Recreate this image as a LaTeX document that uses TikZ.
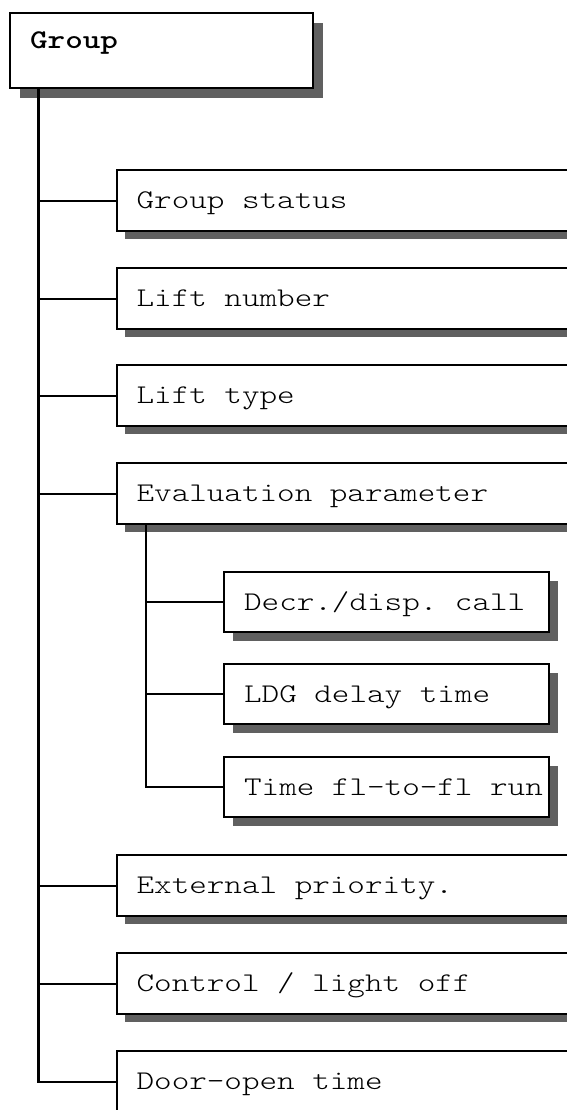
\documentclass[tikz,border=0pt]{standalone}
\usepackage{fontspec}
\setmonofont{lmmonolt10-regular}[Extension=.otf, BoldFont=lmmonolt10-bold, FakeStretch=1.24]
\usetikzlibrary{shadows}
\definecolor{shadowgray}{HTML}{606060}
% monospaced word gaps: one full character cell, no stretch
\newcommand{\monogaps}{\spaceskip=\fontcharwd\font`a\relax\xspaceskip=\spaceskip}
\tikzset{
  box/.style={draw=black, fill=white, line width=2.2pt, rectangle, anchor=north west,
    inner xsep=20pt, inner ysep=0pt, align=left,
    font=\fontsize{27}{30}\selectfont\ttfamily,
    execute at begin node=\monogaps,
    text height=16pt, text depth=0pt},
  rootbox/.style={box, text width=263pt, text height=35pt, text depth=40pt,
    font=\fontsize{27}{30}\selectfont\ttfamily\bfseries,
    drop shadow={shadow xshift=10pt, shadow yshift=-10pt, opacity=1, fill=shadowgray}},
  itembox/.style={box, text width=460pt, minimum height=61pt,
    drop shadow={shadow xshift=8pt, shadow yshift=-8pt, opacity=1, fill=shadowgray}},
  subbox/.style={box, inner xsep=6pt, text width=313pt, minimum height=60pt,
    execute at begin node={\monogaps\hspace*{14pt}},
    drop shadow={shadow xshift=9pt, shadow yshift=-9pt, opacity=1, fill=shadowgray}},
  link/.style={draw=black, line width=2.2pt}
}
\begin{document}
\begin{tikzpicture}[x=1pt, y=-1pt]
\useasboundingbox (0,0) rectangle (567,1110);
\clip (0,0) rectangle (567,1110);
\fill[white] (0,0) rectangle (567,1110);

% root of the menu tree
\node[rootbox] (group) at (9,12) {Group};

% first-level entries
\node[itembox] (status)  at (115.5,169)  {Group status};
\node[itembox] (liftno)  at (115.5,267)  {Lift number};
\node[itembox] (lifttyp) at (115.5,364)  {Lift type};
\node[itembox] (evalpar) at (115.5,462)  {Evaluation parameter};
\node[itembox] (extprio) at (115.5,854)  {External priority.};
\node[itembox] (lightoff) at (115.5,952) {Control / light off};
\node[itembox] (dooropen) at (115.5,1050) {Door-open time};

% second-level entries under the evaluation parameter
\node[subbox] (decr) at (223,571) {Decr./disp. call};
\node[subbox] (ldg)  at (223,663) {LDG delay time};
\node[subbox] (fl2fl) at (223,756) {Time fl-to-fl run};

% trunk lines
\coordinate (trunk) at ([xshift=29.5pt]group.south west);
\coordinate (subtrunk) at ([xshift=30.5pt]evalpar.south west);

\draw[link] (trunk) |- (dooropen.west);
\foreach \n in {status, liftno, lifttyp, evalpar, extprio, lightoff}
  \draw[link] (trunk |- \n.west) -- (\n.west);

\draw[link] (subtrunk) |- (fl2fl.west);
\foreach \n in {decr, ldg}
  \draw[link] (subtrunk |- \n.west) -- (\n.west);
\end{tikzpicture}
\end{document}
